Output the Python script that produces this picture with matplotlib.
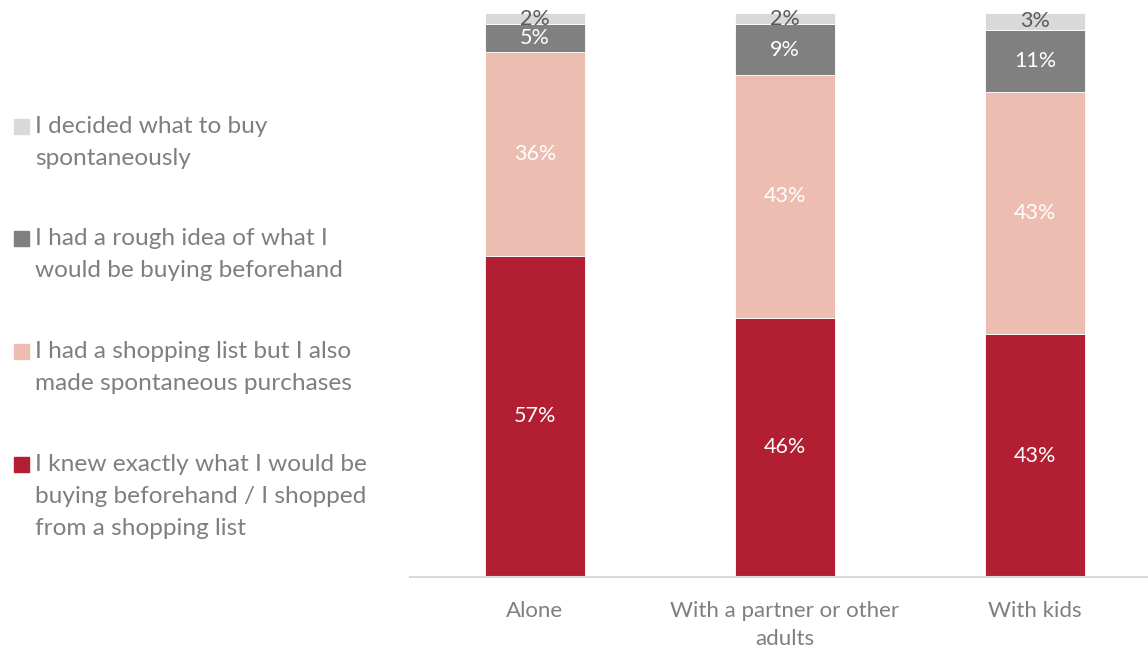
import numpy as np
import matplotlib.pyplot as plt
from matplotlib.patches import Rectangle

plt.rcParams['font.family'] = ['Lato', 'DejaVu Sans']

groups = ["Alone", "With a partner or other\nadults", "With kids"]
series_names = [
    "I knew exactly what I would be\nbuying beforehand / I shopped\nfrom a shopping list",
    "I had a shopping list but I also\nmade spontaneous purchases",
    "I had a rough idea of what I\nwould be buying beforehand",
    "I decided what to buy\nspontaneously",
]
knew_exactly = [57, 46, 43]
list_plus_spontaneous = [36, 43, 43]
rough_idea = [5, 9, 11]
spontaneous = [2, 2, 3]

series = [knew_exactly, list_plus_spontaneous, rough_idea, spontaneous]
colors = ["#B21F32", "#EDBDB2", "#808080", "#D9D9D9"]
label_colors = ["white", "white", "white", "#595959"]
text_gray = "#7F7F7F"

W, H = 1148, 649
fig = plt.figure(figsize=(W / 100, H / 100), dpi=100)
ax = fig.add_axes([410 / W, (H - 577) / H, 738 / W, 564 / H])

x = np.arange(len(groups))
bottom = np.zeros(len(groups))
for vals, col, lcol in zip(series, colors, label_colors):
    vals = np.array(vals, dtype=float)
    ax.bar(x, vals, width=0.4, bottom=bottom, color=col,
           edgecolor="white", linewidth=0.6)
    for xi, b, v in zip(x, bottom, vals):
        ax.text(xi, b + v / 2, f"{v:.0f}%", ha="center", va="center",
                fontsize=15.5, color=lcol)
    bottom += vals

ax.set_xlim(-0.5, 2.452)
ax.set_ylim(0, 100)
ax.set_yticks([])
ax.set_xticks(x)
ax.set_xticklabels(groups, fontsize=16, color=text_gray, linespacing=1.55)
ax.tick_params(axis="x", length=0, pad=17)
for side in ["top", "right", "left"]:
    ax.spines[side].set_visible(False)
ax.spines["bottom"].set_color("#D9D9D9")
ax.spines["bottom"].set_linewidth(1.5)

# legend drawn on the figure, top entry is the top segment
legend_y = [126, 238, 351, 464]
for name, col, yc in zip(series_names[::-1], colors[::-1], legend_y):
    fig.patches.append(Rectangle((14 / W, (H - yc - 7.5) / H), 15 / W, 15 / H,
                                 transform=fig.transFigure, color=col))
    fig.text(35 / W, (H - yc + 10) / H, name, ha="left", va="top",
             fontsize=17.6, color=text_gray, linespacing=1.66)

fig.savefig("out.png", dpi=100)
